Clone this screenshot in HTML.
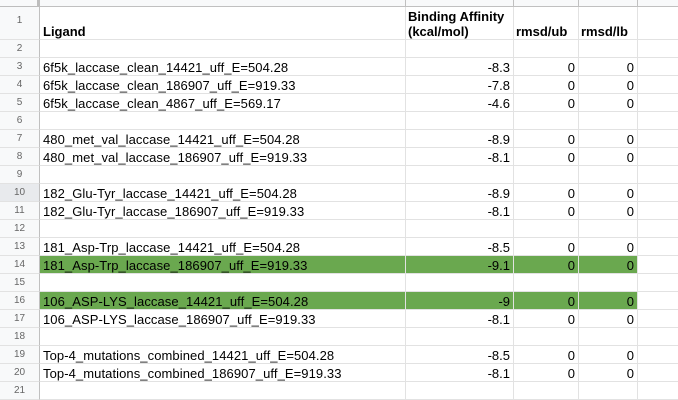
<!DOCTYPE html>
<html><head><meta charset="utf-8"><style>
*{margin:0;padding:0;box-sizing:border-box}
body{width:678px;height:400px;overflow:hidden;background:#fff;font-family:"Liberation Sans",Arial,sans-serif;position:relative}
.abs{position:absolute}
.cell{position:absolute;font-size:13px;color:#000;white-space:nowrap;overflow:visible;line-height:19px;padding:0 3px}
.rh{position:absolute;left:0;width:40px;background:#f8f9fa;color:#666;font-size:10px;text-align:center;border-right:1px solid #c0c0c0;border-bottom:1px solid #e2e2e2}
.hl{position:absolute;left:40px;width:638px;height:1px;background:#e2e2e2}
.vl{position:absolute;top:7px;width:1px;height:393px;background:#e2e2e2}
</style></head><body>
<div class="abs" style="left:0;top:0;width:678px;height:7px;background:#f8f9fa;border-bottom:1px solid #c0c0c0"></div>
<div class="abs" style="left:0;top:0;width:40px;height:8px;background:#f8f9fa;border-right:3px solid #bdbdbd;border-bottom:2px solid #bdbdbd"></div>
<div class="abs" style="left:405px;top:0;width:1px;height:7px;background:#c0c0c0"></div>
<div class="abs" style="left:513px;top:0;width:1px;height:7px;background:#c0c0c0"></div>
<div class="abs" style="left:578px;top:0;width:1px;height:7px;background:#c0c0c0"></div>
<div class="abs" style="left:637px;top:0;width:1px;height:7px;background:#c0c0c0"></div>
<div id="grid"></div>
<script>
const names=["","6f5k_laccase_clean_14421_uff_E=504.28","6f5k_laccase_clean_186907_uff_E=919.33","6f5k_laccase_clean_4867_uff_E=569.17","","480_met_val_laccase_14421_uff_E=504.28","480_met_val_laccase_186907_uff_E=919.33","","182_Glu-Tyr_laccase_14421_uff_E=504.28","182_Glu-Tyr_laccase_186907_uff_E=919.33","","181_Asp-Trp_laccase_14421_uff_E=504.28","181_Asp-Trp_laccase_186907_uff_E=919.33","","106_ASP-LYS_laccase_14421_uff_E=504.28","106_ASP-LYS_laccase_186907_uff_E=919.33","","Top-4_mutations_combined_14421_uff_E=504.28","Top-4_mutations_combined_186907_uff_E=919.33",""];
const affinity=["","-8.3","-7.8","-4.6","","-8.9","-8.1","","-8.9","-8.1","","-8.5","-9.1","","-9","-8.1","","-8.5","-8.1",""];
const highlighted=[14,16];
const g=document.getElementById('grid');
const colX=[40,405,513,578,637];
const r1=document.createElement('div');r1.className='rh';r1.style.top='7px';r1.style.height='33px';r1.style.lineHeight='28px';r1.textContent='1';


g.appendChild(r1);
function hdr(x,w,txt,name){const d=document.createElement('div');d.className='cell';d.style.left=x+'px';d.style.top='7px';d.style.width=w+'px';d.style.height='33px';d.style.fontWeight='bold';d.style.lineHeight='15px';d.style.display='flex';d.style.alignItems='flex-end';d.style.paddingBottom='1px';d.innerHTML=txt;


g.appendChild(d);}
hdr(40,365,'Ligand','ligand-header');
hdr(405,108,'Binding Affinity<br>(kcal/mol)','binding-affinity-header');
hdr(513,65,'rmsd/ub','rmsd-ub-header');
hdr(578,59,'rmsd/lb','rmsd-lb-header');
for(let i=0;i<20;i++){
  const row=i+2, top=40+i*18;
  const rh=document.createElement('div');rh.className='rh';rh.style.top=top+'px';rh.style.height='18px';rh.style.lineHeight='18px';rh.textContent=row;
  if(row===10){rh.style.background='#e8eaed';}
  
  
  g.appendChild(rh);
  if(highlighted.includes(row)){
    const b=document.createElement('div');b.className='abs';b.style.cssText='left:40px;top:'+top+'px;width:598px;height:18px;background:#6aa84f';
    
    
    g.appendChild(b);
  }
  if(names[i]){
    const a=document.createElement('div');a.className='cell';a.style.left='40px';a.style.top=top+'px';a.style.letterSpacing='0.08px';a.textContent=names[i];
    
    
    g.appendChild(a);
    const v=document.createElement('div');v.className='cell';v.style.left='405px';v.style.width='108px';v.style.top=top+'px';v.style.textAlign='right';v.textContent=affinity[i];
    
    
    g.appendChild(v);
    const u=document.createElement('div');u.className='cell';u.style.left='513px';u.style.width='65px';u.style.top=top+'px';u.style.textAlign='right';u.textContent='0';
    
    
    g.appendChild(u);
    const l=document.createElement('div');l.className='cell';l.style.left='578px';l.style.width='59px';l.style.top=top+'px';l.style.textAlign='right';l.textContent='0';
    
    
    g.appendChild(l);
  }
}
for(let i=0;i<21;i++){const h=document.createElement('div');h.className='hl';h.style.top=(39+i*18)+'px';


g.appendChild(h);}
colX.slice(1).forEach(x=>{const v=document.createElement('div');v.className='vl';v.style.left=x+'px';


g.appendChild(v);});
</script>
</body></html>
